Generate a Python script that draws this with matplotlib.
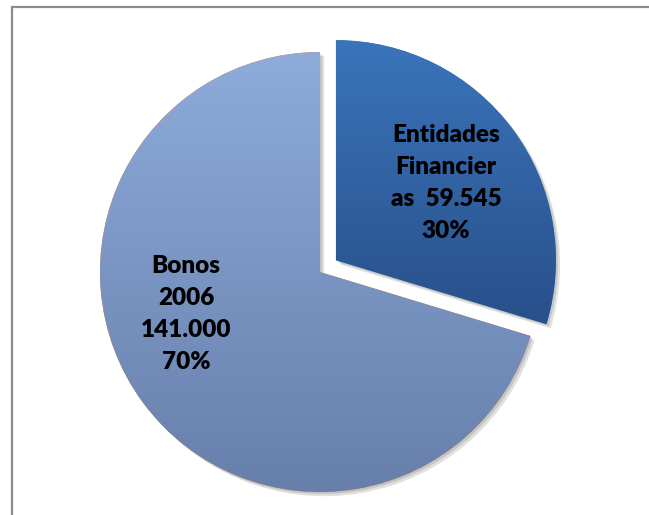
import numpy as np
import matplotlib
matplotlib.use("Agg")
import matplotlib.pyplot as plt
from matplotlib.patches import Rectangle
import matplotlib.patheffects as pe
from matplotlib.colors import to_rgb

# Data
categories = ["Entidades Financieras", "Bonos 2006"]
values = [59.545, 141.000]
value_labels = ["59.545", "141.000"]
pct_labels = ["30%", "70%"]
explode = [0.09, 0.0]

top_colors = ["#3b74bb", "#8eabdb"]
bottom_colors = ["#28508a", "#677fab"]

W, H = 649, 515
R = 220.0
cx, cy = 320.0, 272.0

fig = plt.figure(figsize=(W / 100, H / 100), dpi=100)
ax = fig.add_axes([0, 0, 1, 1])
ax.set_xlim(-cx / R, (W - cx) / R)
ax.set_ylim(-(H - cy) / R, cy / R)
ax.set_aspect("equal")
ax.axis("off")

wedges, _ = ax.pie(values, explode=explode, startangle=90, counterclock=False,
                   radius=1.0, center=(0, 0), wedgeprops=dict(linewidth=0))

for w, tc, bc in zip(wedges, top_colors, bottom_colors):
    w.set_path_effects([pe.SimplePatchShadow(offset=(3, -3), shadow_rgbFace="#000000", alpha=0.12),
                        pe.SimplePatchShadow(offset=(1.5, -1.5), shadow_rgbFace="#000000", alpha=0.12),
                        pe.Normal()])
    bb = w.get_path().get_extents(w.get_patch_transform())
    n = 256
    t = np.linspace(0, 1, n)[:, None]
    c0 = np.array(to_rgb(tc)); c1 = np.array(to_rgb(bc))
    img = (c0[None, None, :] * (1 - t[..., None]) + c1[None, None, :] * t[..., None])
    img = np.repeat(img, 2, axis=1)
    im = ax.imshow(img, extent=[bb.x0, bb.x1, bb.y0, bb.y1], origin="upper",
                   aspect="auto", zorder=w.get_zorder() + 0.5, interpolation="bilinear")
    im.set_clip_path(w)

ax.set_xlim(-cx / R, (W - cx) / R)
ax.set_ylim(-(H - cy) / R, cy / R)

font = dict(family=["Lato", "DejaVu Sans"], fontweight="heavy", fontsize=17.5,
            ha="center", va="center", color="black", linespacing=1.55, zorder=5)
ax.text((446 - cx) / R, (cy - 183) / R,
        "Entidades\nFinancier\nas  " + value_labels[0] + "\n" + pct_labels[0], **font)
ax.text((186 - cx) / R, (cy - 314) / R,
        "Bonos\n2006\n" + value_labels[1] + "\n" + pct_labels[1], **font)

fig.add_artist(Rectangle((11.5 / W, -0.2), 2.0, (H - 6.5) / H + 0.2,
                         transform=fig.transFigure, fill=False,
                         edgecolor="#8c8c8c", linewidth=1.6))

fig.savefig("out.png", dpi=100)
